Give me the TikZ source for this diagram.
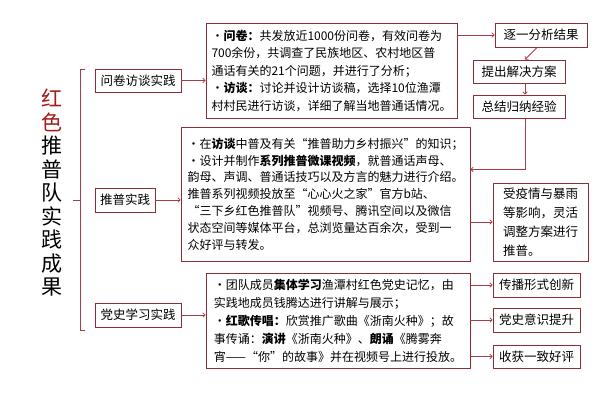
\documentclass[tikz,border=0pt]{standalone}
\usepackage{fontspec}
\setmainfont{Noto Sans CJK SC}
\usetikzlibrary{arrows.meta,calc}
\definecolor{boxc}{RGB}{140,45,55}
\definecolor{linec}{RGB}{165,60,70}
\definecolor{titlec}{RGB}{165,25,25}
\begin{document}
\begin{tikzpicture}[x=1pt,y=-1pt,
  box/.style={draw=boxc, line width=0.9pt, inner sep=0pt, align=left, font=\fontsize{12}{17.5}\selectfont},
  sbox/.style={draw=boxc, line width=0.9pt, inner sep=0pt, font=\fontsize{12.5}{15}\selectfont},
  arr/.style={draw=linec, line width=0.8pt, -{To[length=3pt,width=5pt]}},
  ln/.style={draw=linec, line width=0.8pt}]
\useasboundingbox[fill=white] (0,0) rectangle (600,400);

% title
\node[font=\fontsize{21}{23.5}\selectfont, align=center] (title) at (52,193)
 {\textcolor{titlec}{红}\\\textcolor{titlec}{色}\\推\\普\\队\\实\\践\\成\\果};

% brace
\draw[ln] (85,69) -- (80,69) -- (80,330) -- (85,330);
\draw[ln] (80,200) -- (73,200);

% left boxes
\node[sbox, minimum width=86pt, minimum height=23pt] (L1) at (138,80.5) {问卷访谈实践};
\node[sbox, minimum width=60pt, minimum height=24pt] (L2) at (125,200) {推普实践};
\node[sbox, minimum width=86pt, minimum height=24pt] (L3) at (138,315) {党史学习实践};

% content boxes
\node[box, minimum width=251pt, minimum height=95pt] (b1) at (331.5,70.5)
 {•\textbf{问卷：}共发放近1000份问卷，有效问卷为\\
  700余份，共调查了民族地区、农村地区普\\
  通话有关的21个问题，并进行了分析；\\
  •\textbf{访谈：}讨论并设计访谈稿，选择10位渔潭\\
  村村民进行访谈，详细了解当地普通话情况。};

\node[box, font=\fontsize{12}{16.8}\selectfont, minimum width=289pt, minimum height=134pt] (b2) at (325.5,194)
 {•在\textbf{访谈}中普及有关“推普助力乡村振兴”的知识；\\
  •设计并制作\textbf{系列推普微课视频}，就普通话声母、\\
  韵母、声调、普通话技巧以及方言的魅力进行介绍。\\
  推普系列视频投放至“心心火之家”官方b站、\\
  “三下乡红色推普队”视频号、腾讯空间以及微信\\
  状态空间等媒体平台，总浏览量达百余次，受到一\\
  众好评与转发。};

\node[box, font=\fontsize{12}{18}\selectfont, minimum width=264pt, minimum height=95pt] (b3) at (338,320.5)
 {•团队成员\textbf{集体学习}渔潭村红色党史记忆，由\\
  实践地成员钱腾达进行讲解与展示；\\
  •\textbf{红歌传唱：}欣赏推广歌曲《浙南火种》；故\\
  事传诵：\textbf{演讲}《浙南火种》、\textbf{朗诵}《腾雾奔\\
  宵——“你”的故事》并在视频号上进行投放。};

% right boxes
\node[sbox, minimum width=92pt, minimum height=24pt] (R1) at (541,35) {逐一分析结果};
\node[sbox, minimum width=92pt, minimum height=23pt] (R2) at (519,71.5) {提出解决方案};
\node[sbox, minimum width=92pt, minimum height=23pt] (R3) at (519,106.5) {总结归纳经验};
\node[sbox, font=\fontsize{12.5}{19}\selectfont, align=left, minimum width=95pt, minimum height=78pt] (R4) at (540.5,222)
 {受疫情与暴雨\\等影响，灵活\\调整方案进行\\推普。};
\node[sbox, minimum width=87pt, minimum height=24pt] (R5) at (536.5,285) {传播形式创新};
\node[sbox, minimum width=87pt, minimum height=24pt] (R6) at (536.5,320) {党史意识提升};
\node[sbox, minimum width=87pt, minimum height=23pt] (R7) at (536.5,356.5) {收获一致好评};

% connectors
\draw[arr] (L1.east) -- (L1.east -| b1.west);
\draw[arr] (L2.east) -- (L2.east -| b2.west);
\draw[arr] (L3.east) -- (L3.east -| b3.west);
\draw[arr] (R1.west -| b1.east) -- (R1.west);
\draw[arr] ($(R1.south)+(-4,0)$) -- ($(R2.north)+(6,0)$);
\draw[arr] ($(R2.south)+(6,0)$) -- ($(R3.north)+(6,0)$);
\draw[arr] ($(R3.south)+(6,0)$) -- ++(0,51) coordinate (turn) -- (turn -| b2.east);
\draw[arr] (R4.west -| b2.east) -- (R4.west);
\draw[arr] (R5.west -| b3.east) -- (R5.west);
\draw[arr] (R6.west -| b3.east) -- (R6.west);
\draw[arr] (R7.west -| b3.east) -- (R7.west);
\end{tikzpicture}
\end{document}
